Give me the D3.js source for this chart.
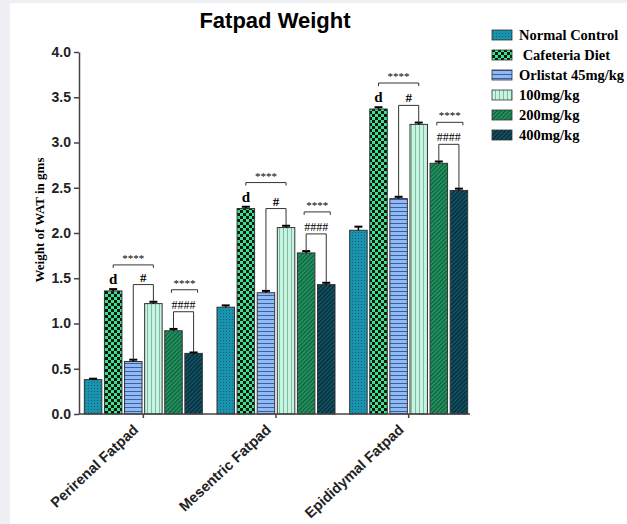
<!DOCTYPE html>
<html>
<head>
<meta charset="utf-8">
<script src="https://cdn.jsdelivr.net/npm/d3@7"></script>
<style>
  body { margin: 0; background: #eef0f3; }
  svg { display: block; }
</style>
</head>
<body>
<div id="chart-container"></div>
<script>
// Data
const categories = ["Perirenal Fatpad", "Mesentric Fatpad", "Epididymal Fatpad"];
const groups = ["Normal Control", " Cafeteria Diet", "Orlistat 45mg/kg", "100mg/kg", "200mg/kg", "400mg/kg"];
const normalControl = [0.38, 1.18, 2.03];
const cafeteriaDiet = [1.36, 2.27, 3.37];
const orlistat45 = [0.58, 1.34, 2.38];
const dose100 = [1.22, 2.06, 3.20];
const dose200 = [0.92, 1.78, 2.77];
const dose400 = [0.67, 1.43, 2.47];
const normalControlErr = [0.01, 0.02, 0.04];
const cafeteriaDietErr = [0.02, 0.02, 0.02];
const orlistat45Err = [0.02, 0.02, 0.02];
const dose100Err = [0.02, 0.02, 0.02];
const dose200Err = [0.02, 0.02, 0.02];
const dose400Err = [0.01, 0.02, 0.02];
const yTicks = [0, 0.5, 1.0, 1.5, 2.0, 2.5, 3.0, 3.5, 4.0];
const sigCafeteria = ["****", "****", "****"];
const markCafeteria = ["d", "d", "d"];
const sigOrlistat = ["#", "#", "#"];
const sigDoseStars = ["****", "****", "****"];
const sigDoseHash = ["####", "####", "####"];

const values = [normalControl, cafeteriaDiet, orlistat45, dose100, dose200, dose400];
const errors = [normalControlErr, cafeteriaDietErr, orlistat45Err, dose100Err, dose200Err, dose400Err];
const patternIds = ["pDots", "pChecker", "pHStripe", "pVStripe", "pDiagGreen", "pDiagDark"];

const svgWidth = 627;
const svgHeight = 524;

const svg = d3.select("#chart-container")
    .append("svg")
    .attr("width", svgWidth)
    .attr("height", svgHeight);

// grey page edges, white panel
svg.append("rect").attr("width", svgWidth).attr("height", svgHeight).attr("fill", "#eef0f3");
svg.append("rect").attr("x", 10).attr("y", 3).attr("width", svgWidth - 10).attr("height", svgHeight - 3).attr("fill", "#fff");

// Patterns
const defs = svg.append("defs");
function pattern(id, w, h) {
    return defs.append("pattern").attr("id", id).attr("patternUnits", "userSpaceOnUse")
        .attr("width", w).attr("height", h);
}
let p = pattern("pDots", 3, 3);
p.append("rect").attr("width", 3).attr("height", 3).attr("fill", "#1a93ae");
p.append("rect").attr("x", 1).attr("y", 1).attr("width", 1).attr("height", 1).attr("fill", "#0e6478");

p = pattern("pChecker", 6, 6);
p.append("rect").attr("width", 6).attr("height", 6).attr("fill", "#3ee08e");
p.append("rect").attr("width", 3).attr("height", 3).attr("fill", "#0a1a12");
p.append("rect").attr("x", 3).attr("y", 3).attr("width", 3).attr("height", 3).attr("fill", "#0a1a12");

p = pattern("pHStripe", 4, 4);
p.append("rect").attr("width", 4).attr("height", 4).attr("fill", "#8fbaf5");
p.append("rect").attr("y", 3).attr("width", 4).attr("height", 1).attr("fill", "#3d5f9c");

p = pattern("pVStripe", 4, 4);
p.append("rect").attr("width", 4).attr("height", 4).attr("fill", "#c8f2e2");
p.append("rect").attr("x", 3).attr("width", 1).attr("height", 4).attr("fill", "#7cbf9e");

p = pattern("pDiagGreen", 3, 3);
p.attr("patternTransform", "rotate(45)");
p.append("rect").attr("width", 3).attr("height", 3).attr("fill", "#22905e");
p.append("rect").attr("width", 1).attr("height", 3).attr("fill", "#0e5a38");

p = pattern("pDiagDark", 3, 3);
p.attr("patternTransform", "rotate(45)");
p.append("rect").attr("width", 3).attr("height", 3).attr("fill", "#115063");
p.append("rect").attr("width", 1).attr("height", 3).attr("fill", "#052630");

// Scales
const x0 = d3.scaleBand().domain(categories).range([77, 475]);
const x1 = d3.scaleBand().domain(groups).range([-59, 59]).paddingInner(0.13);
const y = d3.scaleLinear().domain([0, 4]).range([414, 52]);

const barX = (g, c) => x0(categories[c]) + x0.bandwidth() / 2 + x1(groups[g]);
const barMid = (g, c) => barX(g, c) + x1.bandwidth() / 2;

// Title
svg.append("text")
    .attr("x", 275).attr("y", 28)
    .attr("text-anchor", "middle")
    .style("font", "bold 22px 'Liberation Sans', Arial, sans-serif")
    .text("Fatpad Weight");

// Bars
groups.forEach((gName, g) => {
    categories.forEach((cName, c) => {
        const v = values[g][c];
        svg.append("rect")
            .attr("x", barX(g, c))
            .attr("y", y(v))
            .attr("width", x1.bandwidth())
            .attr("height", y(0) - y(v))
            .attr("fill", `url(#${patternIds[g]})`)
            .attr("stroke", "#333")
            .attr("stroke-width", 1);
        // error bar
        const e = errors[g][c];
        const cx = barMid(g, c);
        svg.append("line")
            .attr("x1", cx).attr("x2", cx)
            .attr("y1", y(v)).attr("y2", y(v + e))
            .attr("stroke", "#000").attr("stroke-width", 1.5);
        svg.append("line")
            .attr("x1", cx - 4).attr("x2", cx + 4)
            .attr("y1", y(v + e)).attr("y2", y(v + e))
            .attr("stroke", "#000").attr("stroke-width", 2);
    });
});

// Axes
const yAxis = svg.append("g")
    .attr("transform", "translate(79,0)")
    .call(d3.axisLeft(y).tickValues(yTicks).tickFormat(d3.format(".1f")).tickSize(5).tickSizeOuter(0));
const xAxis = svg.append("g")
    .attr("transform", `translate(0,${y(0)})`)
    .call(d3.axisBottom(x0).tickSize(4).tickSizeOuter(0).tickFormat(""));
[yAxis, xAxis].forEach(a => {
    a.selectAll("path, line").attr("stroke", "#444").attr("stroke-width", 1.5);
});
xAxis.select(".domain").attr("d", `M79,0H470`);
yAxis.selectAll("text")
    .attr("fill", "#222")
    .style("font", "bold 14px 'Liberation Sans', Arial, sans-serif");

// Category labels, rotated
categories.forEach(c => {
    const cx = x0(c) + x0.bandwidth() / 2 - 4;
    svg.append("text")
        .attr("transform", `translate(${cx},${y(0) + 17}) rotate(-43)`)
        .attr("text-anchor", "end")
        .attr("fill", "#222")
        .style("font", "bold 14.5px 'Liberation Sans', Arial, sans-serif")
        .text(c);
});

// Y label
svg.append("text")
    .attr("transform", "translate(44,220) rotate(-90)")
    .attr("text-anchor", "middle")
    .style("font", "bold 13px 'Liberation Serif', 'Times New Roman', serif")
    .text("Weight of WAT in gms");

// Significance annotations
const annFont = "'Liberation Serif', 'Times New Roman', serif";
function hBracket(xa, xb, yy) {
    svg.append("path")
        .attr("d", `M${xa},${yy + 3}V${yy}H${xb}V${yy + 3}`)
        .attr("fill", "none").attr("stroke", "#333").attr("stroke-width", 1);
}
function dropBracket(xa, ya, xb, yb, yy) {
    svg.append("path")
        .attr("d", `M${xa},${ya}V${yy}H${xb}V${yb}`)
        .attr("fill", "none").attr("stroke", "#333").attr("stroke-width", 1);
}
categories.forEach((cName, c) => {
    // cafeteria vs normal: d + ****
    const topCaf = y(cafeteriaDiet[c] + cafeteriaDietErr[c]);
    svg.append("text")
        .attr("x", barMid(1, c)).attr("y", topCaf - 5)
        .attr("text-anchor", "middle")
        .style("font", `bold 15px ${annFont}`)
        .text(markCafeteria[c]);
    const ys = y(cafeteriaDiet[c]) - 26;
    hBracket(barMid(1, c), barMid(3, c), ys);
    svg.append("text")
        .attr("x", (barMid(1, c) + barMid(3, c)) / 2).attr("y", ys - 3)
        .attr("text-anchor", "middle")
        .style("font", `11px ${annFont}`)
        .text(sigCafeteria[c]);

    // orlistat vs 100 mg/kg: #
    const yh = y(dose100[c]) - 19;
    dropBracket(barMid(2, c), y(orlistat45[c] + orlistat45Err[c]), barMid(3, c), y(dose100[c] + dose100Err[c]), yh);
    svg.append("text")
        .attr("x", (barMid(2, c) + barMid(3, c)) / 2).attr("y", yh - 3)
        .attr("text-anchor", "middle")
        .style("font", `bold 13px ${annFont}`)
        .text(sigOrlistat[c]);

    // 200 vs 400 mg/kg: #### and ****
    const yd = y(dose200[c]) - 19;
    dropBracket(barMid(4, c), y(dose200[c] + dose200Err[c]), barMid(5, c), y(dose400[c] + dose400Err[c]), yd);
    svg.append("text")
        .attr("x", (barMid(4, c) + barMid(5, c)) / 2).attr("y", yd - 3)
        .attr("text-anchor", "middle")
        .style("font", `12px ${annFont}`)
        .text(sigDoseHash[c]);
    const ys2 = yd - 22;
    hBracket(barMid(4, c) - 2, barMid(5, c) + 4, ys2);
    svg.append("text")
        .attr("x", (barMid(4, c) + barMid(5, c)) / 2 + 1).attr("y", ys2 - 3)
        .attr("text-anchor", "middle")
        .style("font", `11px ${annFont}`)
        .text(sigDoseStars[c]);
});

// Legend
const legend = svg.append("g").attr("transform", "translate(492,35)");
groups.forEach((gName, g) => {
    const row = legend.append("g").attr("transform", `translate(0,${g * 20})`);
    row.append("rect")
        .attr("x", 0).attr("y", -5)
        .attr("width", 20).attr("height", 10)
        .attr("fill", `url(#${patternIds[g]})`)
        .attr("stroke", "#333").attr("stroke-width", 0.8);
    row.append("text")
        .attr("x", 27).attr("y", 5)
        .attr("xml:space", "preserve")
        .style("white-space", "pre")
        .style("font", "bold 14.5px 'Liberation Serif', 'Times New Roman', serif")
        .text(gName);
});
</script>
</body>
</html>
